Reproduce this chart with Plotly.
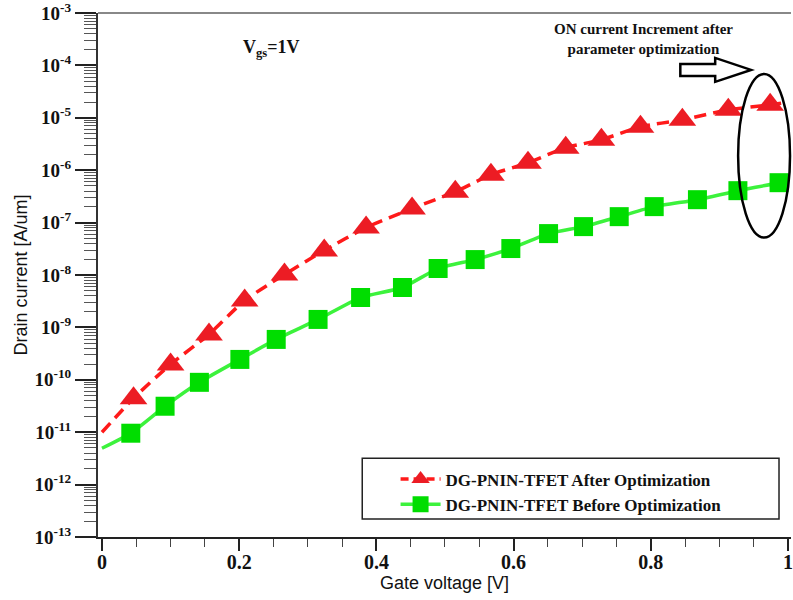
import plotly.graph_objects as go

# ---------------- data ----------------
after_x = [0.046, 0.100, 0.156, 0.208, 0.266, 0.324, 0.385, 0.452, 0.515, 0.567,
           0.621, 0.676, 0.728, 0.785, 0.846, 0.913, 0.974]
after_y = [4.45e-11, 1.97e-10, 7.36e-10, 3.27e-9, 1.02e-8, 2.93e-8, 8.04e-8, 1.85e-7,
           3.89e-7, 8.20e-7, 1.39e-6, 2.69e-6, 3.81e-6, 6.75e-6, 9.16e-6, 1.42e-5, 1.77e-5]
after_line_x = [0.0] + after_x + [1.0]
after_line_y = [1.0e-11] + after_y + [2.0e-5]

before_x = [0.042, 0.092, 0.142, 0.201, 0.254, 0.315, 0.377, 0.438, 0.490, 0.544,
            0.596, 0.651, 0.702, 0.754, 0.805, 0.868, 0.927, 0.987]
before_y = [9.57e-12, 3.13e-11, 8.95e-11, 2.45e-10, 5.90e-10, 1.42e-9, 3.72e-9, 5.78e-9,
            1.33e-8, 1.97e-8, 3.20e-8, 6.17e-8, 8.39e-8, 1.30e-7, 2.02e-7, 2.74e-7,
            4.07e-7, 5.78e-7]
before_line_x = [0.0] + before_x + [1.0]
before_line_y = [4.95e-12] + before_y + [6.5e-7]

y_tick_vals = [1e-13, 1e-12, 1e-11, 1e-10, 1e-9, 1e-8, 1e-7, 1e-6, 1e-5, 1e-4, 1e-3]
y_tick_text = ["10<sup>-13</sup>", "10<sup>-12</sup>", "10<sup>-11</sup>", "10<sup>-10</sup>",
               "10<sup>-9</sup>", "10<sup>-8</sup>", "10<sup>-7</sup>", "10<sup>-6</sup>",
               "10<sup>-5</sup>", "10<sup>-4</sup>", "10<sup>-3</sup>"]
x_tick_vals = [0, 0.2, 0.4, 0.6, 0.8, 1.0]
x_tick_text = ["0", "0.2", "0.4", "0.6", "0.8", "1"]

name_after = "DG-PNIN-TFET After Optimization"
name_before = "DG-PNIN-TFET Before Optimization"

RED_LINE = "#FF1A1A"
RED_MARK = "#EC1C24"
GREEN_LINE = "#3CF23C"
GREEN_MARK = "#00DD00"
SERIF = "Liberation Serif, Times New Roman, serif"
SANS = "Liberation Sans, Arial, sans-serif"

fig = go.Figure()

# curves
fig.add_trace(go.Scatter(x=after_line_x, y=after_line_y, mode="lines",
                         line=dict(color=RED_LINE, width=3.5, dash="12px,7px",
                                   shape="spline", smoothing=0.6),
                         showlegend=False, hoverinfo="skip"))
fig.add_trace(go.Scatter(x=before_line_x, y=before_line_y, mode="lines",
                         line=dict(color=GREEN_LINE, width=3.5,
                                   shape="spline", smoothing=0.6),
                         showlegend=False, hoverinfo="skip"))
# markers
fig.add_trace(go.Scatter(x=after_x, y=after_y, mode="markers",
                         marker=dict(symbol="triangle-up", size=24, color=RED_MARK),
                         showlegend=False))
fig.add_trace(go.Scatter(x=before_x, y=before_y, mode="markers",
                         marker=dict(symbol="square", size=19, color=GREEN_MARK),
                         showlegend=False))
# legend entries
fig.add_trace(go.Scatter(x=[None], y=[None], mode="lines+markers", name=name_after,
                         line=dict(color=RED_LINE, width=3.5, dash="8px,5px"),
                         marker=dict(symbol="triangle-up", size=24, color=RED_MARK)))
fig.add_trace(go.Scatter(x=[None], y=[None], mode="lines+markers", name=name_before,
                         line=dict(color=GREEN_LINE, width=3.5),
                         marker=dict(symbol="square", size=19, color=GREEN_MARK)))

fig.update_layout(
    width=793, height=600,
    margin=dict(l=98, r=0, t=12, b=63),
    paper_bgcolor="white", plot_bgcolor="white",
    showlegend=True,
    legend=dict(x=0.4294, y=0.144, xanchor="left", yanchor="top",
                bgcolor="rgba(0,0,0,0)", borderwidth=0,
                font=dict(family=SERIF, size=17, color="#111", weight="bold"),
                tracegroupgap=0, itemwidth=40),
    xaxis=dict(range=[-0.0058, 1.0044], showgrid=False, zeroline=False,
               showline=True, linecolor="#222", linewidth=2,
               ticks="outside", ticklen=12, tickwidth=1.5, tickcolor="#222",
               tickvals=x_tick_vals, ticktext=x_tick_text,
               ticklabeloverflow="allow", ticklabelstandoff=-6,
               tickfont=dict(family=SERIF, size=20, color="#111", weight="bold"),
               minor=dict(ticks="outside", ticklen=8, tickwidth=1, tickcolor="#444",
                          dtick=0.05, showgrid=False),
               title=dict(text="Gate voltage [V]", standoff=0,
                          font=dict(family=SANS, size=18, color="#111"))),
    yaxis=dict(type="log", range=[-13, -2.9995], showgrid=False, zeroline=False,
               showline=True, linecolor="#333", linewidth=2,
               ticks="outside", ticklen=21, tickwidth=2, tickcolor="#222",
               tickvals=y_tick_vals, ticktext=y_tick_text,
               ticklabeloverflow="allow",
               tickfont=dict(family=SERIF, size=19, color="#111", weight="bold"),
               minor=dict(ticks="outside", ticklen=12, tickwidth=1, tickcolor="#555",
                          dtick="D1", showgrid=False),
               title=dict(text="Drain current [A/um]", standoff=2,
                          font=dict(family=SANS, size=18, color="#111"))),
    shapes=[
        dict(type="line", xref="paper", yref="paper", x0=0, x1=1, y0=1, y1=1,
             line=dict(color="#888", width=2)),
        dict(type="rect", xref="paper", yref="paper", x0=0.3813, x1=0.9827,
             y0=0.0343, y1=0.1505, line=dict(color="#222", width=1.5),
             fillcolor="rgba(0,0,0,0)"),
        dict(type="circle", xref="paper", yref="paper", x0=0.9237, x1=0.9986,
             y0=0.5714, y1=0.8838, line=dict(color="black", width=2.5)),
        dict(type="path", xref="paper", yref="paper",
             path="M 0.8403 0.9029 L 0.8906 0.9029 L 0.8906 0.9143 L 0.9424 0.8914 "
                  "L 0.8906 0.8686 L 0.8906 0.88 L 0.8403 0.88 Z",
             line=dict(color="black", width=2.5), fillcolor="white"),
    ],
    annotations=[
        dict(xref="paper", yref="paper", x=0.25, y=0.9314, showarrow=False,
             xanchor="center", yanchor="middle",
             text="V<sub>gs</sub>=1V",
             font=dict(family=SERIF, size=18, color="#111", weight="bold")),
        dict(xref="paper", yref="paper", x=0.787, y=0.9495, showarrow=False,
             xanchor="center", yanchor="middle",
             text="ON current Increment after<br>parameter optimization",
             font=dict(family=SERIF, size=15, color="#111", weight="bold")),
    ],
)

fig.write_html("out.html")
